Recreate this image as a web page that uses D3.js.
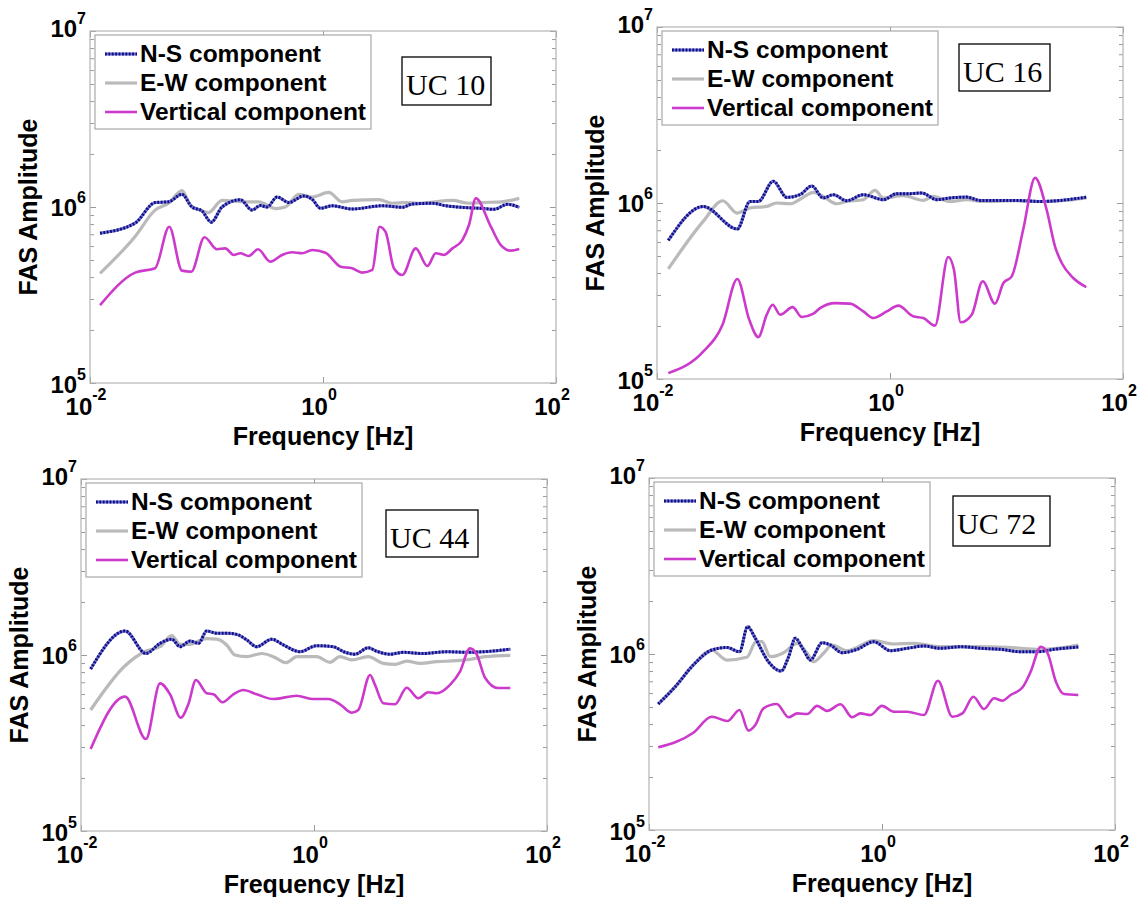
<!DOCTYPE html>
<html>
<head>
<meta charset="utf-8">
<script src="https://cdn.jsdelivr.net/npm/d3@7"></script>
<style>
  body { margin: 0; background: #fff; }
  svg text { font-family: "Liberation Sans", Arial, sans-serif; font-weight: bold; fill: #000; }
</style>
</head>
<body>
<svg width="1146" height="897"></svg>
<script>
// [frequency Hz, FAS amplitude]
var uc10Ns = [[0.0122,7.1e5],[0.0244,8.1e5],[0.0362,1.06e6],[0.0472,1.07e6],[0.0615,1.18e6],[0.075,1.0e6],[0.0914,9.5e5],[0.110,8.2e5],[0.136,1.0e6],[0.195,1.1e6],[0.246,9.6e5],[0.290,1.02e6],[0.331,1.0e6],[0.404,1.14e6],[0.508,1.06e6],[0.684,1.155e6],[0.807,1.106e6],[0.951,9.83e5],[1.2,1.017e6],[1.78,9.74e5],[3.23,1.017e6],[4.8,9.96e5],[5.85,1.04e6],[8.7,1.05e6],[11.3,1.017e6],[17.9,9.9e5],[22.6,9.83e5],[29.5,9.7e5],[38.4,1.036e6],[48.4,9.96e5]];
var uc10Ew = [[0.0122,4.2e5],[0.0244,6.8e5],[0.0362,9.6e5],[0.0472,1.05e6],[0.0615,1.24e6],[0.0724,1.03e6],[0.0883,9.6e5],[0.104,9.3e5],[0.136,1.09e6],[0.215,1.07e6],[0.281,1.07e6],[0.39,9.8e5],[0.475,1.0e6],[0.62,1.18e6],[0.807,1.14e6],[1.12,1.21e6],[1.46,1.07e6],[1.78,1.09e6],[3.02,1.1e6],[3.94,1.05e6],[5.12,1.06e6],[6.67,1.05e6],[12.9,1.09e6],[17.9,1.05e6],[22.6,1.06e6],[33.6,1.07e6],[48.4,1.12e6]];
var uc10V = [[0.0122,2.77e5],[0.0244,4.24e5],[0.0362,4.49e5],[0.0479,7.73e5],[0.0615,4.35e5],[0.074,4.29e5],[0.0961,6.73e5],[0.123,5.75e5],[0.145,5.82e5],[0.171,5.34e5],[0.195,5.46e5],[0.230,5.27e5],[0.277,5.75e5],[0.353,4.89e5],[0.446,5.34e5],[0.543,5.53e5],[0.662,5.46e5],[0.807,5.7e5],[1.05,5.5e5],[1.42,4.58e5],[1.78,4.49e5],[2.17,4.24e5],[2.65,4.39e5],[3.06,7.73e5],[3.45,7.2e5],[4.06,4.49e5],[4.8,4.11e5],[6.25,5.82e5],[7.87,4.62e5],[9.29,5.46e5],[10.9,5.34e5],[12.9,5.82e5],[15.7,6.49e5],[17.9,7.9e5],[20.5,1.12e6],[27.6,7.73e5],[33.6,6.08e5],[41,5.65e5],[48.4,5.77e5]];

var uc16Ns = [[0.0125,6.13e5],[0.0249,9.56e5],[0.0489,7.12e5],[0.0628,1.02e6],[0.0741,1.02e6],[0.0995,1.33e6],[0.130,1.076e6],[0.169,1.115e6],[0.213,1.25e6],[0.267,1.068e6],[0.326,1.115e6],[0.425,1.03e6],[0.59,1.115e6],[0.877,1.044e6],[1.14,1.13e6],[1.49,1.13e6],[1.87,1.14e6],[2.52,1.044e6],[3.27,1.068e6],[4.55,1.08e6],[5.93,1.034e6],[12.2,1.034e6],[20,1.02e6],[28.8,1.034e6],[48.4,1.08e6]];
var uc16Ew = [[0.0125,4.22e5],[0.0249,7.86e5],[0.0366,1.03e6],[0.0489,8.77e5],[0.0628,9.37e5],[0.0875,9.56e5],[0.106,1.0e6],[0.139,9.9e5],[0.169,1.05e6],[0.22,1.15e6],[0.267,1.09e6],[0.348,9.9e5],[0.425,1.02e6],[0.59,1.044e6],[0.743,1.18e6],[0.877,1.068e6],[1.3,1.1e6],[1.93,1.034e6],[2.35,1.09e6],[3.27,1.02e6],[4.55,1.044e6],[6.32,1.02e6],[12.2,1.03e6],[20,1.02e6],[28.8,1.03e6],[48.4,1.07e6]];
var uc16V = [[0.0125,1.08e5],[0.0249,1.43e5],[0.0366,2.04e5],[0.0489,3.7e5],[0.0619,2.17e5],[0.0741,1.73e5],[0.0875,2.32e5],[0.0984,2.64e5],[0.114,2.32e5],[0.146,2.56e5],[0.175,2.25e5],[0.22,2.35e5],[0.251,2.53e5],[0.337,2.7e5],[0.454,2.68e5],[0.59,2.42e5],[0.72,2.22e5],[0.938,2.42e5],[1.18,2.61e5],[1.58,2.27e5],[1.93,2.22e5],[2.43,2.01e5],[3.16,4.93e5],[3.54,4.18e5],[4.04,2.1e5],[5.03,2.32e5],[6.25,3.59e5],[7.96,2.68e5],[9.4,3.51e5],[11.1,3.83e5],[13.9,7.05e5],[17.6,1.39e6],[22.1,9.16e5],[26.1,5.66e5],[29.8,4.56e5],[37.4,3.75e5],[48.4,3.33e5]];

var uc44Ns = [[0.0121,8.33e5],[0.0239,1.37e6],[0.0361,1.02e6],[0.0477,1.165e6],[0.0601,1.23e6],[0.0708,1.115e6],[0.0863,1.2e6],[0.102,1.165e6],[0.12,1.37e6],[0.146,1.33e6],[0.178,1.33e6],[0.217,1.31e6],[0.264,1.22e6],[0.322,1.115e6],[0.434,1.23e6],[0.546,1.14e6],[0.759,1.044e6],[1.055,1.13e6],[1.46,1.115e6],[1.85,1.036e6],[2.25,1.01e6],[2.92,1.1e6],[3.45,1.05e6],[4.49,1.01e6],[5.84,1.036e6],[8.67,1.02e6],[13.8,1.044e6],[20.5,1.036e6],[28.4,1.044e6],[48.4,1.08e6]];
var uc44Ew = [[0.0121,4.87e5],[0.0239,8.69e5],[0.0361,1.054e6],[0.0477,1.115e6],[0.0601,1.29e6],[0.0708,1.15e6],[0.0863,1.15e6],[0.102,1.2e6],[0.12,1.24e6],[0.146,1.23e6],[0.178,1.14e6],[0.21,1.0e6],[0.264,9.78e5],[0.356,1.02e6],[0.448,9.78e5],[0.575,9.04e5],[0.711,9.78e5],[1.055,9.78e5],[1.37,9.09e5],[1.67,9.78e5],[2.11,9.37e5],[2.92,9.78e5],[3.94,8.97e5],[4.96,8.85e5],[6.25,9.24e5],[8.13,8.97e5],[11.3,9.16e5],[16.8,9.28e5],[21.8,9.45e5],[29.4,9.78e5],[48.4,9.96e5]];
var uc44V = [[0.0121,2.92e5],[0.0239,5.8e5],[0.0361,3.33e5],[0.0477,6.9e5],[0.0581,5.98e5],[0.0718,4.4e5],[0.0834,5.25e5],[0.097,7.21e5],[0.12,6.06e5],[0.137,5.98e5],[0.164,5.39e5],[0.203,5.98e5],[0.247,6.33e5],[0.322,5.98e5],[0.448,5.62e5],[0.711,5.87e5],[0.986,5.62e5],[1.33,5.62e5],[1.67,5.25e5],[2.11,4.7e5],[2.4,4.87e5],[3.03,7.7e5],[3.34,6.76e5],[3.94,5.32e5],[4.96,5.25e5],[6.25,6.52e5],[7.85,5.68e5],[9.57,6.14e5],[11.3,6.06e5],[14.7,6.76e5],[17.9,8.04e5],[21.8,1.09e6],[24.9,1.01e6],[29.4,7.43e5],[37.9,6.5e5],[48.4,6.5e5]];

var uc72Ns = [[0.012,5.2e5],[0.0168,6.52e5],[0.024,8.66e5],[0.0346,1.054e6],[0.0466,1.09e6],[0.0598,1.03e6],[0.0702,1.43e6],[0.0817,1.23e6],[0.106,9.04e5],[0.136,8.0e5],[0.158,9.65e5],[0.18,1.23e6],[0.212,1.054e6],[0.243,9.24e5],[0.306,1.16e6],[0.36,1.125e6],[0.455,1.017e6],[0.612,1.063e6],[0.849,1.175e6],[1.18,1.044e6],[1.65,1.077e6],[2.29,1.11e6],[3.19,1.077e6],[4.73,1.1e6],[7.03,1.077e6],[10.5,1.063e6],[15.5,1.03e6],[21.6,1.03e6],[30.1,1.063e6],[48.4,1.096e6]];
var uc72Ew = [[0.012,5.2e5],[0.0168,6.52e5],[0.024,8.66e5],[0.0346,1.05e6],[0.0466,9.24e5],[0.0692,9.58e5],[0.0832,1.175e6],[0.0931,1.175e6],[0.11,9.65e5],[0.143,1.017e6],[0.187,1.15e6],[0.228,1.01e6],[0.259,9.04e5],[0.315,1.01e6],[0.373,1.125e6],[0.502,1.044e6],[0.849,1.19e6],[1.26,1.14e6],[1.88,1.15e6],[3.19,1.1e6],[6.17,1.1e6],[11.9,1.09e6],[23.1,1.063e6],[48.4,1.125e6]];
var uc72V = [[0.012,2.95e5],[0.024,3.57e5],[0.0346,4.4e5],[0.0472,4.16e5],[0.0598,4.81e5],[0.0714,3.67e5],[0.0817,3.95e5],[0.0961,4.91e5],[0.125,5.2e5],[0.158,4.37e5],[0.187,4.6e5],[0.228,4.56e5],[0.277,5.07e5],[0.338,4.75e5],[0.44,5.18e5],[0.555,4.37e5],[0.653,4.6e5],[0.796,4.5e5],[1.0,5.07e5],[1.26,4.7e5],[1.65,4.7e5],[2.29,4.5e5],[3.02,7.05e5],[4.02,4.4e5],[4.9,4.6e5],[6.09,5.72e5],[7.51,4.87e5],[9.16,5.6e5],[10.8,5.43e5],[12.7,5.85e5],[16.1,6.47e5],[18.9,7.94e5],[23.1,1.1e6],[26.4,1.01e6],[31.1,6.96e5],[36.4,5.93e5],[48.4,5.85e5]];

var stationNames = ["UC 10", "UC 16", "UC 44", "UC 72"];
var legendLabels = ["N-S component", "E-W component", "Vertical component"];
var xTickValues = [1e-2, 1e0, 1e2];
var xTickExp = ["-2", "0", "2"];
var yTickValues = [1e5, 1e6, 1e7];
var yTickExp = ["5", "6", "7"];

var svg = d3.select("svg");
var W = 466, H = 352;

// where each panel sits in the figure, and its station box (x, y, w, h relative to plot)
var panels = [
  {name: stationNames[0], ns: uc10Ns, ew: uc10Ew, v: uc10V, left: 90, top: 31, box: [312, 26, 89, 48]},
  {name: stationNames[1], ns: uc16Ns, ew: uc16Ew, v: uc16V, left: 657, top: 27, box: [302, 17, 91, 47]},
  {name: stationNames[2], ns: uc44Ns, ew: uc44Ew, v: uc44V, left: 81, top: 479, box: [305, 31, 92, 47]},
  {name: stationNames[3], ns: uc72Ns, ew: uc72Ew, v: uc72V, left: 649, top: 478, box: [304, 18, 97, 50]}
];

var x = d3.scaleLog().domain([1e-2, 1e2]).range([0, W]);
var y = d3.scaleLog().domain([1e5, 1e7]).range([H, 0]);

var minorY = [];
[1e5, 1e6].forEach(function (d) {
    for (var k = 2; k < 10; k++) minorY.push(d * k);
});

var line = d3.line()
    .x(function (d) { return x(d[0]); })
    .y(function (d) { return y(d[1]); })
    .curve(d3.curveMonotoneX);

function drawNs(sel, pathD) {
    sel.append("path").attr("d", pathD).attr("fill", "none")
        .attr("stroke", "#6e6ed2").attr("stroke-width", 3);
    sel.append("path").attr("d", pathD).attr("fill", "none")
        .attr("stroke", "#0f0f80").attr("stroke-width", 3)
        .attr("stroke-dasharray", "1.8,1.6");
}

function styleTicks(a) {
    a.select(".domain").remove();
    a.selectAll("line").attr("stroke", "#9a9a9a");
}

function drawPanel(p) {
    var g = svg.append("g")
        .attr("transform", "translate(" + p.left + "," + p.top + ")");

    // ticks (inside, on all four sides)
    g.append("g").call(d3.axisLeft(y).tickValues(minorY).tickSize(-4).tickFormat("")).call(styleTicks);
    g.append("g").attr("transform", "translate(" + W + ",0)")
        .call(d3.axisRight(y).tickValues(minorY).tickSize(-4).tickFormat("")).call(styleTicks);
    g.append("g").call(d3.axisLeft(y).tickValues(yTickValues).tickSize(-6).tickFormat("")).call(styleTicks);
    g.append("g").attr("transform", "translate(" + W + ",0)")
        .call(d3.axisRight(y).tickValues(yTickValues).tickSize(-6).tickFormat("")).call(styleTicks);
    g.append("g").attr("transform", "translate(0," + H + ")")
        .call(d3.axisBottom(x).tickValues(xTickValues).tickSize(-6).tickFormat("")).call(styleTicks);
    g.append("g")
        .call(d3.axisTop(x).tickValues(xTickValues).tickSize(-6).tickFormat("")).call(styleTicks);

    g.append("rect")
        .attr("width", W).attr("height", H)
        .attr("fill", "none").attr("stroke", "#b4b4b4").attr("stroke-width", 1.2);

    // tick labels 10^n
    xTickValues.forEach(function (v, i) {
        var t = g.append("text")
            .attr("x", x(v) - 4).attr("y", H + 32)
            .attr("text-anchor", "middle")
            .style("font-size", "24px");
        t.append("tspan").text("10");
        t.append("tspan").attr("dy", -15).style("font-size", "16px").text(xTickExp[i]);
    });
    yTickValues.forEach(function (v, i) {
        var off = i === 0 ? 10 : (i === 2 ? 6 : 9);
        var t = g.append("text")
            .attr("x", -4).attr("y", y(v) + off)
            .attr("text-anchor", "end")
            .style("font-size", "24px");
        t.append("tspan").text("10");
        t.append("tspan").attr("dy", -13).style("font-size", "16px").text(yTickExp[i]);
    });

    // axis titles
    g.append("text")
        .attr("x", W / 2).attr("y", H + 62)
        .attr("text-anchor", "middle")
        .style("font-size", "25px")
        .text("Frequency [Hz]");
    g.append("text")
        .attr("transform", "translate(-53," + (H / 2) + ") rotate(-90)")
        .attr("text-anchor", "middle")
        .style("font-size", "25px")
        .text("FAS Amplitude");

    // curves
    g.append("path").attr("d", line(p.ew)).attr("fill", "none")
        .attr("stroke", "#bababa").attr("stroke-width", 3.2);
    drawNs(g, line(p.ns));
    g.append("path").attr("d", line(p.v)).attr("fill", "none")
        .attr("stroke", "#cc3acc").attr("stroke-width", 2.6);

    // legend
    var lg = g.append("g").attr("transform", "translate(5,4)");
    lg.append("rect").attr("width", 276).attr("height", 94)
        .attr("fill", "#fff").attr("stroke", "#a8a8a8").attr("stroke-width", 1.2);
    legendLabels.forEach(function (lab, i) {
        var by = 27 + i * 29;
        var ld = "M10," + (by - 8) + "H42";
        if (i === 0) drawNs(lg, ld);
        else lg.append("path").attr("d", ld)
            .attr("stroke", i === 1 ? "#bababa" : "#cc3acc")
            .attr("stroke-width", i === 1 ? 3.2 : 2.6);
        lg.append("text").attr("x", 45).attr("y", by)
            .style("font-size", "24.5px").text(lab);
    });

    // station box
    g.append("rect")
        .attr("x", p.box[0]).attr("y", p.box[1])
        .attr("width", p.box[2]).attr("height", p.box[3])
        .attr("fill", "#fff").attr("stroke", "#000").attr("stroke-width", 1.3);
    g.append("text")
        .attr("x", p.box[0] + 4).attr("y", p.box[1] + 38)
        .style("font-family", "'Liberation Serif', 'Times New Roman', serif")
        .style("font-weight", "normal")
        .style("font-size", "30px")
        .text(p.name);
}

panels.forEach(drawPanel);
</script>
</body>
</html>
